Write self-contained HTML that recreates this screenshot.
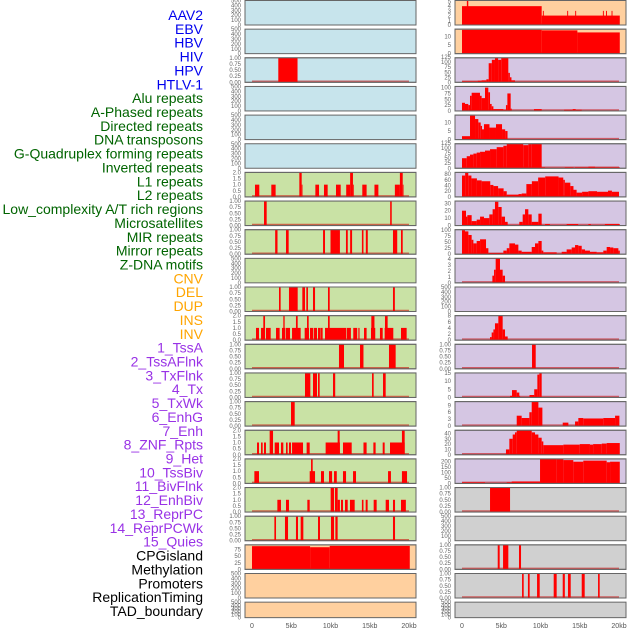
<!DOCTYPE html>
<html><head><meta charset="utf-8"><style>
html,body{margin:0;padding:0;background:#fff;}
svg{display:block;font-family:"Liberation Sans",sans-serif;}
</style></head><body>
<svg id="chart" width="630" height="630" viewBox="0 0 630 630" xmlns="http://www.w3.org/2000/svg"></svg>
<script>
// ---- Track labels ----
const labelNames = ["AAV2","EBV","HBV","HIV","HPV","HTLV-1","Alu repeats","A-Phased repeats","Directed repeats","DNA transposons","G-Quadruplex forming repeats","Inverted repeats","L1 repeats","L2 repeats","Low_complexity A/T rich regions","Microsatellites","MIR repeats","Mirror repeats","Z-DNA motifs","CNV","DEL","DUP","INS","INV","1_TssA","2_TssAFlnk","3_TxFlnk","4_Tx","5_TxWk","6_EnhG","7_Enh","8_ZNF_Rpts","9_Het","10_TssBiv","11_BivFlnk","12_EnhBiv","13_ReprPC","14_ReprPCWk","15_Quies","CPGisland","Methylation","Promoters","ReplicationTiming","TAD_boundary"];
const labelGroups = [6,13,5,15,5];
const groupColors = ["#0000ee","#006400","#ffa500","#9932e6","#000000"];
const xTickValues = [0,5,10,15,20];
const xTickLabels = ["0","5kb","10kb","15kb","20kb"];

// ---- Tick sets ----
const ticksEmpty = [0,100,200,300,400,500];
const ticksUnit = [0,0.25,0.5,0.75,1];
const ticksTwo = [0,0.5,1,1.5,2];

// ---- Left column segments [startKb, endKb, value] ----
const segL2 = [[3.35,5.8,1]];
const segL6 = [[0.38,0.93,1],[2.46,3.01,1],[6.03,6.33,2],[6.33,6.41,1],[8.07,8.54,1],[9.17,9.64,1],[10.7,11.3,1],[12.0,12.5,1],[12.5,12.86,2],[12.86,12.9,1],[14.05,14.6,1],[15.6,16.1,1],[18.2,18.84,1],[18.84,19.2,2],[19.2,19.3,1]];
const segL7 = [[1.53,1.87,1],[17.6,17.8,1]];
const segL8 = [[2.95,3.25,1],[4.33,4.67,1],[9.05,9.3,1],[10.0,11.2,1],[11.97,12.2,1],[12.5,12.75,1],[14.0,14.2,1],[14.5,14.75,1],[17.96,18.5,1],[18.98,19.2,1]];
const segL10 = [[3.44,3.65,1],[4.71,5.82,1],[6.41,6.75,1],[6.92,7.13,1],[7.77,8.03,1],[9.68,9.9,1],[17.96,18.2,1]];
const segL11 = [[0.51,0.89,1],[1.15,1.57,1],[1.44,1.66,2],[1.78,2.38,1],[3.06,3.52,1],[3.82,4.25,1],[3.99,4.16,2],[4.33,4.84,1],[5.1,6.2,1],[5.6,5.82,2],[6.71,7.26,1],[7.01,7.22,2],[7.39,7.81,1],[7.9,8.28,1],[8.41,8.66,1],[8.7,9.0,1],[9.3,11.98,1],[9.68,9.9,2],[12.06,12.6,1],[12.9,13.4,1],[13.55,13.7,1],[14.27,14.6,1],[15.16,15.7,1],[15.2,15.6,2],[16.3,16.65,1],[16.9,18.0,1],[16.94,17.28,2],[18.98,19.7,1]];
const segL12 = [[11.08,11.72,1],[13.76,14.2,1],[17.45,18.3,1]];
const segL13 = [[6.75,7.43,1],[7.77,8.28,1],[8.41,8.62,1],[10.32,10.6,1],[15.29,15.5,1],[16.69,17.03,1]];
const segL14 = [[4.97,5.44,1]];
const segL15 = [[0.64,0.89,1],[1.15,1.36,1],[1.53,1.78,1],[2.25,2.68,2],[2.89,3.44,1],[3.69,3.99,1],[4.33,4.54,1],[4.71,4.97,1],[5.1,6.5,1],[6.96,7.35,1],[9.38,11.2,1],[10.91,11.17,2],[11.59,12.7,1],[14.2,14.6,1],[15.46,15.75,1],[16.65,16.9,1],[17.58,19.45,1],[19.1,19.45,2]];
const segL16 = [[0.3,0.89,1],[7.35,8.03,1],[7.52,7.73,2],[8.79,9.17,1],[9.81,10.2,1],[10.45,10.8,1],[11.59,11.98,1],[12.87,13.25,1],[17.33,17.7,1],[19.1,19.75,1]];
const segL17 = [[3.23,3.69,1],[4.33,4.71,1],[7.05,7.35,1],[10.02,10.45,2],[10.57,10.91,2],[10.91,11.2,1],[11.34,11.59,1],[11.85,12.19,1],[12.48,13.08,1],[14.0,14.2,1],[14.48,14.73,1],[15.5,15.88,1],[17.03,17.45,1],[17.96,18.22,1],[18.98,19.6,1]];
const segL18 = [[2.85,3.06,1],[4.2,4.59,1],[5.6,5.86,1],[6.2,6.54,1],[8.41,8.66,1],[10.06,10.45,1],[10.62,10.91,1],[17.96,18.22,1]];
const segL19 = [[0,7.4,88],[7.4,9.9,84],[9.9,20.1,89]];

// ---- Right column segments ----
const segR0 = [[0,10.15,4],[0.62,0.8,5.2],[10.15,20.1,2],[10.3,10.42,3],[13.4,13.52,3],[14.42,14.54,3],[17.95,18.07,3],[18.35,18.47,3],[19.05,19.17,3]];
const segR1 = [[0,10.15,13.8],[10.15,14.7,13.5],[14.7,20.1,12.3]];
const segR2 = [[0,2,5],[2,2.5,8],[2.5,3.1,10],[3.1,3.4,15],[3.4,3.8,95],[3.8,4.2,112],[4.2,4.6,121],[4.6,5.0,112],[5.0,5.9,122],[5.9,6.1,47],[6.1,6.3,25],[6.3,6.75,10],[6.75,20,2]];
const segR3 = [[0,0.38,35],[0.38,0.8,30],[0.8,1.02,25],[1.02,1.23,65],[1.23,2.29,78],[2.29,2.5,65],[2.5,2.93,55],[2.93,3.35,100],[3.35,3.57,80],[3.57,3.78,30],[3.78,4.0,20],[4.0,5.27,8],[5.27,5.6,5],[5.6,5.78,25],[5.78,6.2,75],[6.2,6.33,10],[6.33,20,1],[9.17,10.15,8],[13.0,14.1,5],[14.1,14.48,8],[14.48,15.25,5]];
const segR4 = [[0,1.02,2],[1.02,1.66,14],[1.66,2.08,12],[2.08,2.38,10],[2.38,2.55,8],[2.55,2.8,6],[2.8,3.5,9],[3.5,4.33,7],[4.33,5.1,9],[5.1,5.5,6],[5.5,5.8,5],[5.8,20,0.3]];
const segR5 = [[0,0.6,50],[0.6,1.02,60],[1.02,1.45,68],[1.45,1.87,73],[1.87,2.3,78],[2.3,2.93,82],[2.93,3.57,88],[3.57,4.42,95],[4.42,5.27,105],[5.27,5.7,112],[5.7,7.8,122],[7.8,8.45,115],[8.45,8.88,120],[8.88,10.15,122],[10.15,10.58,5],[10.58,20.1,2],[13.1,14.2,5],[14.4,16.1,5],[16.1,16.95,8],[16.95,20.1,5]];
const segR6 = [[0,0.4,75],[0.4,0.8,85],[0.8,1.2,75],[1.2,1.9,65],[1.9,2.5,58],[2.5,3.6,55],[3.6,4,42],[4,4.6,38],[4.6,5.3,30],[5.3,5.7,20],[5.7,7.2,8],[7.2,7.6,10],[7.6,8.2,12],[8.2,8.9,45],[8.9,9.7,55],[9.7,10.6,68],[10.6,12.3,72],[12.3,12.9,68],[12.9,13.1,60],[13.1,13.8,50],[13.8,14.2,38],[14.2,14.6,25],[14.6,15.3,15],[15.3,16.1,18],[16.1,17.2,20],[17.2,18.6,18],[18.6,19.1,22],[19.1,20,18]];
const segR7 = [[0,0.51,20],[0.51,0.68,12],[0.68,1.23,14],[1.23,1.87,6],[1.87,2.3,8],[2.3,2.8,12],[2.8,3.48,10],[3.48,3.9,15],[3.9,4.2,22],[4.2,4.63,32],[4.63,5.05,25],[5.05,5.48,12],[5.48,5.82,5],[5.82,20,0.5],[7.3,7.73,5],[7.73,8.03,15],[8.03,8.45,22],[8.45,8.88,15],[8.88,9.73,5],[9.73,10.15,16],[10.58,11.2,2],[13.33,14.8,2],[16.1,16.4,2],[18.2,20.1,2]];
const segR8 = [[0,0.38,100],[0.38,0.81,95],[0.81,1.23,80],[1.23,1.45,60],[1.45,1.87,45],[1.87,2.3,55],[2.3,3.06,62],[3.06,3.36,25],[3.36,5.27,5],[5.27,5.7,15],[5.7,6.03,25],[6.03,6.75,45],[6.75,7.18,40],[7.18,7.6,15],[7.6,8.88,10],[8.88,9.3,30],[9.3,9.73,45],[9.73,10.15,55],[10.15,10.36,15],[10.36,12.06,8],[12.06,12.7,3],[12.7,13.33,10],[13.33,13.97,20],[13.97,14.4,28],[14.4,14.82,38],[14.82,15.25,35],[15.25,15.67,20],[15.67,16.3,15],[16.3,17.16,10],[17.16,18.0,8],[18.0,18.43,15],[18.43,18.86,30],[18.86,19.28,28],[19.28,19.92,25],[19.92,20.1,15]];
const segR9 = [[3.87,4.08,1.2],[4.08,4.29,2.2],[4.29,4.84,4.1],[4.84,5.18,2.2],[5.18,5.48,1.2]];
const segR11 = [[3.57,3.78,1],[3.78,4.0,2.5],[4.0,4.2,3.5],[4.2,4.63,5.5],[4.63,5.18,8],[5.18,5.48,3.5],[5.48,5.82,1.2]];
const segR12 = [[8.92,9.39,1]];
const segR13 = [[6.12,6.37,1],[6.37,6.97,4.5],[6.97,7.3,3],[7.3,7.4,1],[8.6,9.2,1.5],[9.2,9.6,5],[9.6,9.85,14],[9.85,10.15,15]];
const segR14 = [[6.97,7.6,4.5],[7.6,8.58,3.5],[8.58,8.88,6],[8.88,9.73,10.6],[9.73,10.24,8],[12.83,13.55,1.5],[14.4,14.82,2],[14.82,15.45,3.5],[15.45,18.0,3.3],[18.0,19.5,3.5],[19.5,20.05,4.5]];
const segR15 = [[5.6,6.03,10],[6.03,6.46,30],[6.46,6.75,38],[6.75,6.97,42],[6.97,8.88,46],[8.88,9.3,42],[9.3,9.73,38],[9.73,10.15,32],[10.15,10.36,25],[10.36,12.91,18],[12.91,15.0,19],[15.0,16.3,20],[16.3,16.7,19],[16.7,17.8,20],[17.8,18.43,21],[18.43,20.1,22]];
const segR16 = [[0,2.93,10],[2.93,5.7,3],[5.7,6.33,10],[6.33,9.94,18],[9.94,12.06,225],[12.06,12.91,222],[12.91,14.18,215],[14.18,15.45,200],[15.45,18.43,210],[18.43,18.86,195],[18.86,20.1,200]];
const segR17 = [[3.57,6.12,1]];
const segR19 = [[4.55,4.8,1],[5.23,5.9,1],[7.26,7.52,1]];
const segR20 = [[7.65,7.86,1],[8.4,8.62,1],[9.56,9.9,1],[11.68,12.06,1],[12.83,13.1,1],[13.5,13.85,1],[15.25,15.63,1],[17.33,17.54,1]];

const fills = {blue:"#c7e4ec",green:"#c9e2a5",orange:"#ffd09f",purple:"#d5c6e3",gray:"#d0d0d0"};
// [segments, ymax, ticks, decimals, color]
const leftPanels = [
 [null,500,ticksEmpty,0,"blue"],[null,500,ticksEmpty,0,"blue"],[segL2,1,ticksUnit,2,"blue"],
 [null,500,ticksEmpty,0,"blue"],[null,500,ticksEmpty,0,"blue"],[null,500,ticksEmpty,0,"blue"],
 [segL6,2,ticksTwo,1,"green"],[segL7,1,ticksUnit,2,"green"],[segL8,1,ticksUnit,2,"green"],
 [null,500,ticksEmpty,0,"green"],[segL10,1,ticksUnit,2,"green"],[segL11,2,ticksTwo,1,"green"],
 [segL12,1,ticksUnit,2,"green"],[segL13,1,ticksUnit,2,"green"],[segL14,1,ticksUnit,2,"green"],
 [segL15,2,ticksTwo,1,"green"],[segL16,2,ticksTwo,1,"green"],[segL17,2,ticksTwo,1,"green"],
 [segL18,1,ticksUnit,2,"green"],[segL19,93,[0,25,50,75],0,"orange"],
 [null,500,ticksEmpty,0,"orange"],[null,500,ticksEmpty,0,"orange"]
];
const rightPanels = [
 [segR0,5.2,[0,1,2,3,4,5],0,"orange"],[segR1,14.2,[0,5,10],0,"orange"],
 [segR2,122,[0,25,50,75,100,125],0,"purple"],[segR3,105,[0,25,50,75,100],0,"purple"],
 [segR4,14.3,[0,5,10],0,"purple"],[segR5,122,[0,25,50,75,100,125],0,"purple"],
 [segR6,86,[0,20,40,60,80],0,"purple"],[segR7,33,[0,10,20,30],0,"purple"],
 [segR8,102,[0,25,50,75,100],0,"purple"],[segR9,4.1,[0,1,2,3,4],0,"purple"],
 [null,500,ticksEmpty,0,"purple"],[segR11,8,[0,2,4,6,8],0,"purple"],
 [segR12,1,ticksUnit,2,"purple"],[segR13,15,[0,5,10,15],0,"purple"],
 [segR14,10.6,[0,3,6,9],0,"purple"],[segR15,46,[0,10,20,30,40],0,"purple"],
 [segR16,226,[0,50,100,150,200],0,"purple"],[segR17,1,ticksUnit,2,"gray"],
 [null,500,ticksEmpty,0,"gray"],[segR19,1,ticksUnit,2,"gray"],
 [segR20,1,ticksUnit,2,"gray"],[null,500,ticksEmpty,0,"gray"]
];

const NS = "http://www.w3.org/2000/svg";
const svg = document.getElementById('chart');
function mk(tag, attrs, parent){const e=document.createElementNS(NS,tag);for(const k in attrs)e.setAttribute(k,attrs[k]);(parent||svg).appendChild(e);return e;}

// labels
let idx=0;
labelGroups.forEach((n,g)=>{for(let j=0;j<n;j++){
  const t=mk('text',{x:203,y:15+idx*13.86+5,'text-anchor':'end','font-size':14,fill:groupColors[g]});
  t.textContent=labelNames[idx];
  
  
  idx++;
}});

const rowTop = i => 0.5 + i*28.65;
const rowH = i => i===21 ? 15.5 : 24.5;
const PW = 171;
function xScale(x0, kb){return x0 + 7 + kb*7.85;}

function drawPanel(p, i, x0, side){
  const [segs,ymax,ticks,dec,col]=p;
  const top=rowTop(i), h=rowH(i), bot=top+h;
  const g=mk('g',{});
  
  
  const bg=mk('rect',{x:x0,y:top,width:PW,height:h,fill:fills[col],stroke:'#666','stroke-width':1},g);
  
  
  const yS=v=>bot - v/ymax*h;
  ticks.forEach(tv=>{
    const t=mk('text',{x:x0-4,y:yS(tv)+2,'text-anchor':'end','font-size':6,fill:'#666'},g);
    t.textContent=tv.toFixed(dec);
    
    
  });
  if(segs){
    const bl=mk('line',{x1:xScale(x0,0),x2:xScale(x0,20),y1:bot-1,y2:bot-1,stroke:'rgba(200,0,0,0.55)','stroke-width':1.5},g);
    
    
    segs.forEach(s=>{
      const xa=xScale(x0,s[0]), xb=xScale(x0,s[1]);
      const r=mk('rect',{x:xa,y:yS(s[2]),width:Math.max(0.8,xb-xa),height:bot-yS(s[2]),fill:'#ff0000'},g);
      
      
    });
    mk('rect',{x:x0,y:top,width:PW,height:h,fill:'none',stroke:'#666','stroke-width':1},g);
  }
}
leftPanels.forEach((p,i)=>drawPanel(p,i,245,'left'));
rightPanels.forEach((p,i)=>drawPanel(p,i,455,'right'));

// x axis labels
[245,455].forEach(x0=>{
  xTickValues.forEach((v,k)=>{
    const t=mk('text',{x:xScale(x0,v),y:628,'text-anchor':'middle','font-size':7,fill:'#555'});
    t.textContent=xTickLabels[k];
    
    
  });
});
</script>
</body></html>
